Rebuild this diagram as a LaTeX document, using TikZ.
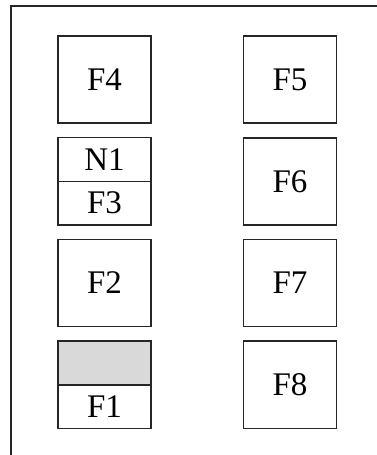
\documentclass[tikz,border=0pt]{standalone}
\usepackage{fontspec}
\setmainfont{Liberation Serif}
\begin{document}
\begin{tikzpicture}[x=1pt,y=-1pt,
  fullbox/.style={draw=black!85,line width=1.6pt,minimum width=93pt,minimum height=87.3pt,inner sep=0pt,font=\fontsize{33}{38}\selectfont},
  halfbox/.style={fullbox,minimum height=43.65pt},
  grayhalf/.style={halfbox,fill=black!15}]
\useasboundingbox (0,0) rectangle (377,455);
\draw[black!85,line width=1.6pt] (378,6) -- (11,6) -- (11,456);
% left column
\node[fullbox] (F4) at (104.5,79.4) {F4};
\node[halfbox] (N1) at (104.5,159.5) {N1};
\node[halfbox] (F3) at (104.5,203.2) {F3};
\node[fullbox] (F2) at (104.5,283) {F2};
\node[grayhalf] (G1) at (104.5,363.0) {};
\node[halfbox] (F1) at (104.5,406.6) {F1};
% right column
\node[fullbox] (F5) at (290,79.4) {F5};
\node[fullbox] (F6) at (290,181.4) {F6};
\node[fullbox] (F7) at (290,283) {F7};
\node[fullbox] (F8) at (290,384.8) {F8};
\end{tikzpicture}
\end{document}
